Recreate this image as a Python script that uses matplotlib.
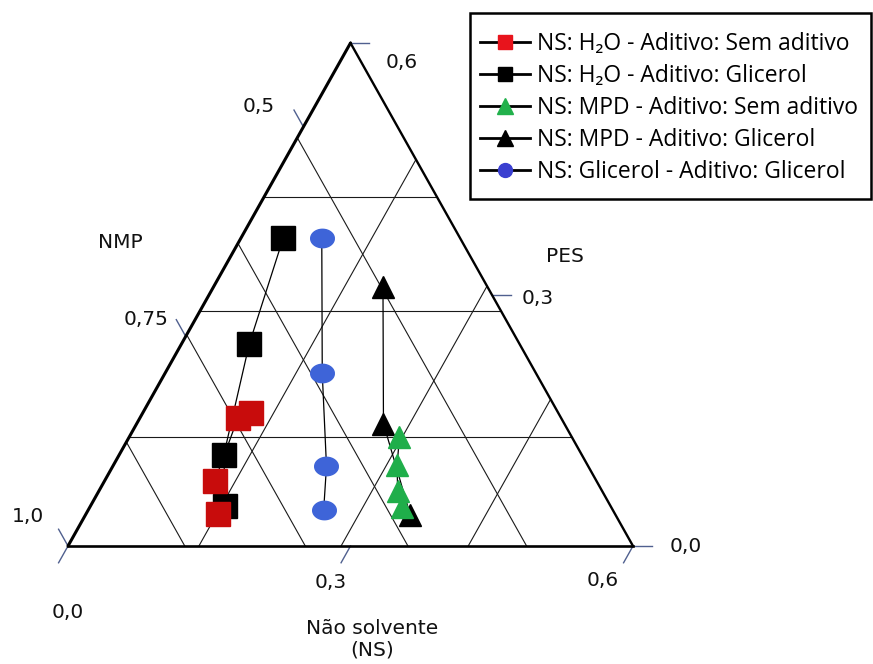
import numpy as np
import matplotlib
matplotlib.use("Agg")
import matplotlib.pyplot as plt
from matplotlib.lines import Line2D
from matplotlib.patches import Rectangle
from matplotlib.path import Path

# composições (fração mássica): não solvente (NS) e polímero (PES); NMP = 1 - NS - PES
h2o_sem_ns = [0.115, 0.104, 0.117, 0.140]
h2o_sem_pes = [0.159, 0.153, 0.078, 0.038]

h2o_gli_ns = [0.045, 0.072, 0.111, 0.143]
h2o_gli_pes = [0.367, 0.241, 0.109, 0.048]

mpd_sem_ns = [0.287, 0.301, 0.317, 0.331]
mpd_sem_pes = [0.130, 0.097, 0.066, 0.047]

mpd_gli_ns = [0.180, 0.262, 0.345]
mpd_gli_pes = [0.309, 0.146, 0.037]

gli_gli_ns = [0.086, 0.167, 0.227, 0.250]
gli_gli_pes = [0.367, 0.206, 0.095, 0.043]

legend_labels = [
    "NS: H₂O - Aditivo: Sem aditivo",
    "NS: H₂O - Aditivo: Glicerol",
    "NS: MPD - Aditivo: Sem aditivo",
    "NS: MPD - Aditivo: Glicerol",
    "NS: Glicerol - Aditivo: Glicerol",
]

# linhas de grade do diagrama
grid_pes = [0.130, 0.280, 0.416]
grid_ns = [0.139, 0.290, 0.425]
grid_nmp = [0.876, 0.748, 0.639, 0.513]

ticks_ns = [0.0, 0.3, 0.6]
ticks_pes = [0.0, 0.3, 0.6]
ticks_nmp = [1.0, 0.75, 0.5]

SIDE = 0.6
H = np.sqrt(3) / 2


def tern(ns, pes):
    ns = np.asarray(ns, dtype=float)
    pes = np.asarray(pes, dtype=float)
    return ns + pes / 2, pes * H


W, HT = 873, 664
fig = plt.figure(figsize=(W / 100, HT / 100), dpi=100)
ax = fig.add_axes([0, 0, 1, 1])
ax.set_axis_off()

# vértices: (68,546), (633,546), (351,43) em pixels
sx = 565 / SIDE
sy = 503 / (SIDE * H)
ax.set_xlim(-68 / sx, (W - 68) / sx)
ax.set_ylim(-(HT - 546) / sy, 546 / sy)

tick_c = "#50608f"
grid_kw = dict(color="#1a1a1a", lw=0.8, zorder=1)

for p in grid_pes:
    x, y = tern([0, SIDE - p], [p, p])
    ax.plot(x, y, **grid_kw)
for n in grid_ns:
    x, y = tern([n, n], [0, SIDE - n])
    ax.plot(x, y, **grid_kw)
for m in grid_nmp:
    c = 1 - m
    x, y = tern([c, 0], [0, c])
    ax.plot(x, y, **grid_kw)

# lados do triângulo
x, y = tern([0, 0], [0, SIDE])
ax.plot(x, y, color="black", lw=2.2, zorder=2, solid_capstyle="round")
x, y = tern([0, SIDE], [0, 0])
ax.plot(x, y, color="black", lw=1.9, zorder=2)
x, y = tern([SIDE, 0], [0, SIDE])
ax.plot(x, y, color="black", lw=1.7, zorder=2)

# marcas dos eixos
t = 0.02
for n in ticks_ns:
    x, y = tern([n, n], [0, -t])
    ax.plot(x, y, color=tick_c, lw=1.0, zorder=1)
for p in ticks_pes:
    x, y = tern([SIDE - p, SIDE - p + t], [p, p])
    ax.plot(x, y, color=tick_c, lw=1.0, zorder=1)
for m in ticks_nmp:
    c = 1 - m
    x, y = tern([0, -t], [c, c + t])
    ax.plot(x, y, color=tick_c, lw=1.0, zorder=1)


def fmt(v):
    s = f"{v:.2f}".rstrip("0")
    if s.endswith("."):
        s += "0"
    return s.replace(".", ",")


FS = 14.5
lab_kw = dict(textcoords="offset pixels", ha="center", va="center",
              fontsize=FS, color="#111111")
ns_off = [(0, -66), (-20, -37), (-30, -35)]
for n, off in zip(ticks_ns, ns_off):
    ax.annotate(fmt(n), tern(n, 0), xytext=off, **lab_kw)
pes_off = [(53, 0), (46, -4), (51, -20)]
for p, off in zip(ticks_pes, pes_off):
    ax.annotate(fmt(p), tern(SIDE - p, p), xytext=off, **lab_kw)
nmp_off = [(-40, 30), (-40, 17), (-45, 20)]
for m, off in zip(ticks_nmp, nmp_off):
    ax.annotate(fmt(m), tern(0, 1 - m), xytext=off, **lab_kw)

fig.text(120 / W, 1 - 242 / HT, "NMP", ha="center", va="center",
         fontsize=FS, color="#111111")
fig.text(565 / W, 1 - 257 / HT, "PES", ha="center", va="center",
         fontsize=FS, color="#111111")
fig.text(372 / W, 1 - 639 / HT, "Não solvente\n(NS)", ha="center",
         va="center", fontsize=FS, color="#111111", linespacing=1.15)

# séries
ellipse = np.linspace(0, 2 * np.pi, 64)
ellipse = Path(np.column_stack([np.cos(ellipse), 0.78 * np.sin(ellipse)]))

red = "#c80c0c"
green = "#1fae4a"
blue = "#3e64d8"

series = [
    (h2o_gli_ns, h2o_gli_pes, "s", "black", 17),
    (h2o_sem_ns, h2o_sem_pes, "s", red, 17),
    (mpd_gli_ns, mpd_gli_pes, "^", "black", 16),
    (mpd_sem_ns, mpd_sem_pes, "^", green, 16),
    (gli_gli_ns, gli_gli_pes, ellipse, blue, 17),
]
for i, (ns, pes, mk, col, ms) in enumerate(series):
    x, y = tern(ns, pes)
    ax.plot(x, y, color="black", lw=0.9, zorder=3)
    ax.plot(x, y, ls="none", marker=mk, ms=ms, mfc=col, mec=col,
            zorder=4 + i)

hkw = dict(color="black", lw=2.0)
handles = [
    Line2D([], [], marker="s", ms=10, mfc="#e8141c", mec="#e8141c", **hkw),
    Line2D([], [], marker="s", ms=10, mfc="black", mec="black", **hkw),
    Line2D([], [], marker="^", ms=11, mfc="#22b14c", mec="#22b14c", **hkw),
    Line2D([], [], marker="^", ms=11, mfc="black", mec="black", **hkw),
    Line2D([], [], marker="o", ms=10, mfc="#3a3fd0", mec="#3a3fd0", **hkw),
]
fig.legend(handles, legend_labels, loc="upper left",
           bbox_to_anchor=(480 / W, 1 - 32 / HT), borderaxespad=0,
           frameon=False, borderpad=0,
           prop={"family": ["Open Sans", "DejaVu Sans"], "size": 16.5},
           handlelength=2.2, handletextpad=0.3, labelspacing=0.35)
# moldura da legenda
fig.patches.append(Rectangle((470 / W, 1 - 199 / HT), 401 / W, 186 / HT,
                             transform=fig.transFigure, fill=False,
                             edgecolor="black", lw=1.8, zorder=10))

fig.savefig("out.png", dpi=100, facecolor="white")
